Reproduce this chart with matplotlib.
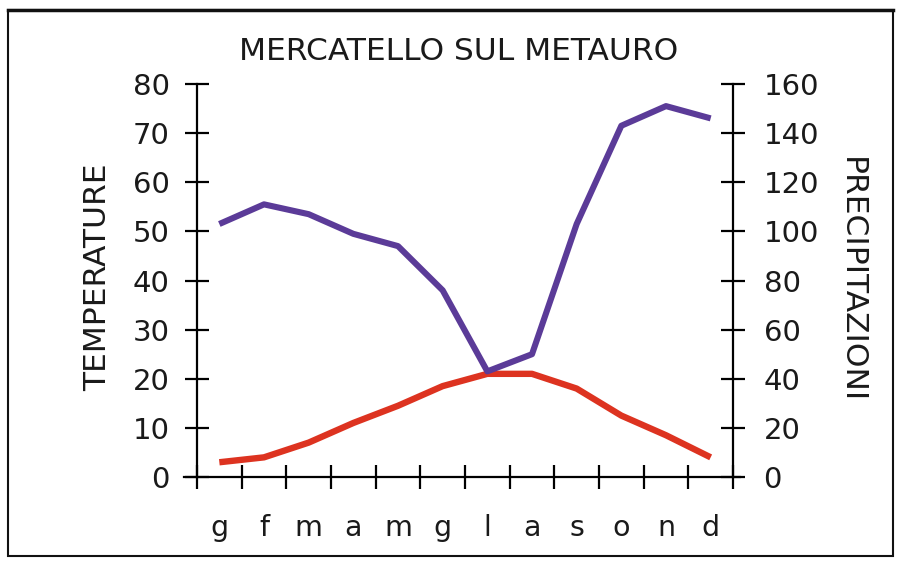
import matplotlib
matplotlib.use("Agg")
import matplotlib.pyplot as plt
from matplotlib.patches import Rectangle
from matplotlib.lines import Line2D
import numpy as np

# ---- data ----
months = ['g', 'f', 'm', 'a', 'm', 'g', 'l', 'a', 's', 'o', 'n', 'd']
temperature = [3, 4, 7, 11, 14.5, 18.5, 21, 21, 18, 12.5, 8.5, 4]
precipitation = [103, 111, 107, 99, 94, 76, 43, 50, 103, 143, 151, 146]
temp_ticks = [0, 10, 20, 30, 40, 50, 60, 70, 80]
prec_ticks = [0, 20, 40, 60, 80, 100, 120, 140, 160]

title = "MERCATELLO SUL METAURO"
left_label = "TEMPERATURE"
right_label = "PRECIPITAZIONI"

plt.rcParams['font.family'] = ['DejaVu Sans']

W, H = 899, 562
fig = plt.figure(figsize=(W / 100, H / 100), dpi=100)
fig.patch.set_facecolor('white')

L, R, B, T = 197, 733, 477, 84
ax = fig.add_axes([L / W, 1 - B / H, (R - L) / W, (B - T) / H])
ax2 = ax.twinx()

x = np.arange(len(months)) + 0.5

ax.plot(x, temperature, color='#dd3320', lw=4.6, solid_capstyle='butt',
        solid_joinstyle='round', zorder=3)
ax2.plot(x, precipitation, color='#5b3b98', lw=4.4, solid_capstyle='butt',
         solid_joinstyle='round', zorder=3)

ax.set_xlim(0, len(months))
ax.set_ylim(temp_ticks[0], temp_ticks[-1])
ax2.set_ylim(prec_ticks[0], prec_ticks[-1])

ax.set_xticks(np.arange(len(months) + 1))
ax.set_xticklabels([])
ax.set_xticks(x, minor=True)
ax.set_xticklabels(months, minor=True, fontsize=20.5, color='#1a1a1a')
ax.tick_params(axis='x', which='major', direction='inout', length=17, width=1.6, color='black')
ax.tick_params(axis='x', which='minor', length=0, pad=27)

ax.set_yticks(temp_ticks)
ax.set_yticklabels([str(v) for v in temp_ticks], fontsize=21, color='#1a1a1a')
ax.tick_params(axis='y', direction='inout', length=17, width=1.6, pad=11, color='black')

ax2.set_yticks(prec_ticks)
ax2.set_yticklabels([str(v) for v in prec_ticks], fontsize=21, color='#1a1a1a')
ax2.tick_params(axis='y', direction='inout', length=17, width=1.6, pad=13.5, color='black')

for a in (ax, ax2):
    a.spines['top'].set_visible(False)
    for s in ('left', 'right', 'bottom'):
        a.spines[s].set_linewidth(1.6)
        a.spines[s].set_color('black')
ax2.spines['bottom'].set_visible(False)
ax2.spines['left'].set_visible(False)
ax.spines['right'].set_visible(False)
ax.spines['bottom'].set_bounds(-0.3, len(months) + 0.15)
ax.spines['bottom'].set_zorder(5)

# title and axis labels
fig.text(459 / W, 1 - 60 / H, title, ha='center', va='baseline', fontsize=22.5, color='#1a1a1a')
fig.text(106 / W, 1 - 277 / H, left_label, rotation=90, rotation_mode='anchor',
         ha='center', va='baseline', fontsize=22.5, color='#1a1a1a')
fig.text(843 / W, 1 - 280 / H, right_label, rotation=-90, rotation_mode='anchor',
         ha='center', va='baseline', fontsize=22.5, color='#1a1a1a')

# outer frame
fig.add_artist(Rectangle((8 / W, 1 - 556 / H), (893 - 8) / W, (556 - 10) / H,
                         transform=fig.transFigure, fill=False, edgecolor='#111111', lw=1.5))
fig.add_artist(Line2D([8 / W, 893 / W], [1 - 10 / H, 1 - 10 / H], transform=fig.transFigure,
                      color='#111111', lw=2.5))

fig.savefig('out.png', dpi=100, facecolor='white')
